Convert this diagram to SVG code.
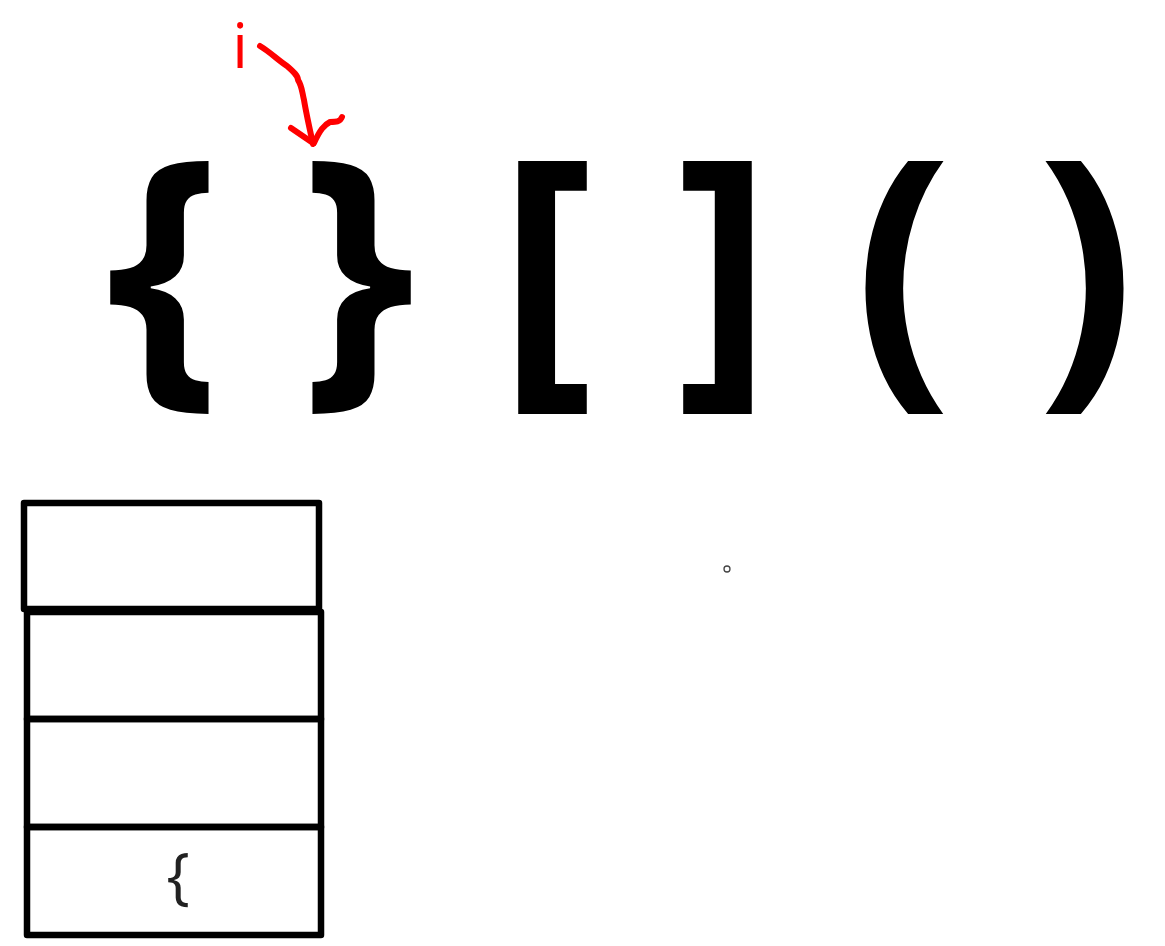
<svg xmlns="http://www.w3.org/2000/svg" width="1165" height="946" viewBox="0 0 1165 946">
<style>
.big{font-family:"Open Sans","Liberation Sans",sans-serif;font-weight:bold;font-size:290px;fill:#000;text-anchor:middle}
.box{fill:none;stroke:#000;stroke-width:6.5;stroke-linejoin:round;stroke-linecap:round}
.red{fill:none;stroke:#f00;stroke-width:6;stroke-linecap:round;stroke-linejoin:round}
</style>
<rect width="1165" height="946" fill="#fff"/>
<g id="brackets">
<text class="big" x="163" y="368">{</text>
<text class="big" x="358" y="368">}</text>
<text class="big" x="546" y="368">[</text>
<text class="big" x="724" y="368">]</text>
<text class="big" x="903" y="368">(</text>
<text class="big" x="1086" y="368">)</text>
</g>
<g id="pointer">
<text x="240" y="68" font-family="Open Sans,Liberation Sans,sans-serif" font-size="62" fill="#f00" text-anchor="middle">i</text>
</g>
<g id="connectors">
<path class="red" d="M260 46 C270 52 278 60 287 66 C294 72 298 76 298 80 C302 86 302 92 304 100 C306 112 309 126 313 144"/>
<path class="red" d="M291 128 L313 143"/>
<path class="red" d="M342 117 C340 122 336 122 330 122 C324 125 320 130 314 143"/>
</g>
<g id="stack">
<rect class="box" x="24" y="503" width="295" height="106"/>
<rect class="box" x="27" y="612" width="294" height="107"/>
<rect class="box" x="27" y="719" width="294" height="108"/>
<rect class="box" x="27" y="827" width="294" height="108"/>
<text x="178" y="898" font-family="Open Sans,Liberation Sans,sans-serif" font-size="62" fill="#222" text-anchor="middle">{</text>
</g>
<circle cx="727" cy="569" r="3" fill="none" stroke="#444" stroke-width="1.3"/>
</svg>
